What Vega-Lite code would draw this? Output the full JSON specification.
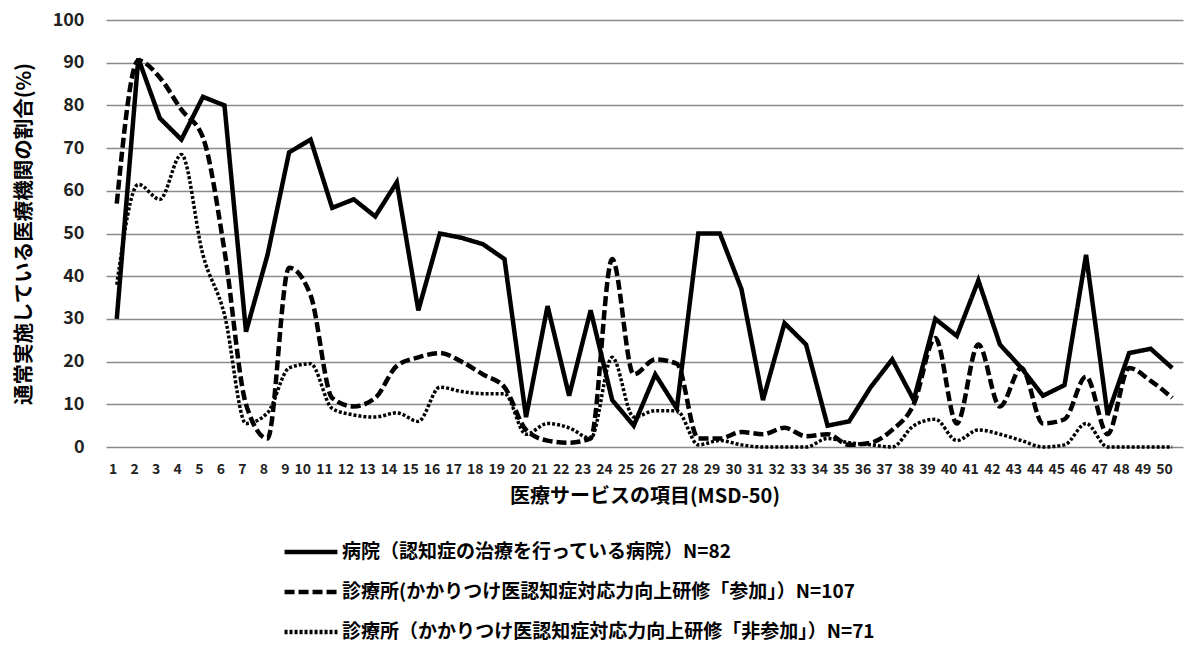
{
  "$schema": "https://vega.github.io/schema/vega-lite/v6.json",
  "autosize": {"type": "none"},
  "padding": {"left": 106, "top": 20, "right": 4, "bottom": 198},
  "width": 1077,
  "height": 427,
  "background": "white",
  "config": {
    "font": "Noto Sans CJK JP",
    "view": {"stroke": null}
  },
  "datasets": {
    "s": [
      {"item": 1, "value": 30}, {"item": 2, "value": 91}, {"item": 3, "value": 77}, {"item": 4, "value": 72}, {"item": 5, "value": 82},
      {"item": 6, "value": 80}, {"item": 7, "value": 27}, {"item": 8, "value": 45}, {"item": 9, "value": 69}, {"item": 10, "value": 72},
      {"item": 11, "value": 56}, {"item": 12, "value": 58}, {"item": 13, "value": 54}, {"item": 14, "value": 62}, {"item": 15, "value": 32},
      {"item": 16, "value": 50}, {"item": 17, "value": 49}, {"item": 18, "value": 47.5}, {"item": 19, "value": 44}, {"item": 20, "value": 7},
      {"item": 21, "value": 33}, {"item": 22, "value": 12}, {"item": 23, "value": 32}, {"item": 24, "value": 11}, {"item": 25, "value": 5},
      {"item": 26, "value": 17}, {"item": 27, "value": 9}, {"item": 28, "value": 50}, {"item": 29, "value": 50}, {"item": 30, "value": 37},
      {"item": 31, "value": 11}, {"item": 32, "value": 29}, {"item": 33, "value": 24}, {"item": 34, "value": 5}, {"item": 35, "value": 6},
      {"item": 36, "value": 14}, {"item": 37, "value": 20.5}, {"item": 38, "value": 11}, {"item": 39, "value": 30}, {"item": 40, "value": 26},
      {"item": 41, "value": 39}, {"item": 42, "value": 24}, {"item": 43, "value": 18.5}, {"item": 44, "value": 12}, {"item": 45, "value": 14.5},
      {"item": 46, "value": 45}, {"item": 47, "value": 7.5}, {"item": 48, "value": 22}, {"item": 49, "value": 23}, {"item": 50, "value": 18.5}
    ],
    "d": [
      {"item": 1, "value": 57}, {"item": 2, "value": 90.5}, {"item": 3, "value": 86.5}, {"item": 4, "value": 79}, {"item": 5, "value": 72.5},
      {"item": 6, "value": 46}, {"item": 7, "value": 10}, {"item": 8, "value": 2}, {"item": 9, "value": 42}, {"item": 10, "value": 35.5},
      {"item": 11, "value": 11.5}, {"item": 12, "value": 9.5}, {"item": 13, "value": 11.5}, {"item": 14, "value": 19}, {"item": 15, "value": 21},
      {"item": 16, "value": 22}, {"item": 17, "value": 20}, {"item": 18, "value": 17}, {"item": 19, "value": 14}, {"item": 20, "value": 4},
      {"item": 21, "value": 1.5}, {"item": 22, "value": 1}, {"item": 23, "value": 2}, {"item": 24, "value": 44}, {"item": 25, "value": 17},
      {"item": 26, "value": 20.5}, {"item": 27, "value": 19.5}, {"item": 28, "value": 2}, {"item": 29, "value": 2}, {"item": 30, "value": 3.5},
      {"item": 31, "value": 3}, {"item": 32, "value": 4.5}, {"item": 33, "value": 2.5}, {"item": 34, "value": 3}, {"item": 35, "value": 0.5},
      {"item": 36, "value": 1}, {"item": 37, "value": 4}, {"item": 38, "value": 10}, {"item": 39, "value": 25.5}, {"item": 40, "value": 5.5},
      {"item": 41, "value": 24}, {"item": 42, "value": 9.5}, {"item": 43, "value": 18.5}, {"item": 44, "value": 5.5}, {"item": 45, "value": 6.5},
      {"item": 46, "value": 16.5}, {"item": 47, "value": 3}, {"item": 48, "value": 18.5}, {"item": 49, "value": 15.5}, {"item": 50, "value": 11.5}
    ],
    "t": [
      {"item": 1, "value": 38}, {"item": 2, "value": 61.5}, {"item": 3, "value": 58}, {"item": 4, "value": 68.5}, {"item": 5, "value": 45},
      {"item": 6, "value": 31}, {"item": 7, "value": 5.5}, {"item": 8, "value": 8}, {"item": 9, "value": 18.5}, {"item": 10, "value": 19.5},
      {"item": 11, "value": 9}, {"item": 12, "value": 7.5}, {"item": 13, "value": 7}, {"item": 14, "value": 8}, {"item": 15, "value": 6},
      {"item": 16, "value": 14}, {"item": 17, "value": 13}, {"item": 18, "value": 12.5}, {"item": 19, "value": 12.5}, {"item": 20, "value": 3},
      {"item": 21, "value": 5.5}, {"item": 22, "value": 4.5}, {"item": 23, "value": 2}, {"item": 24, "value": 21}, {"item": 25, "value": 7},
      {"item": 26, "value": 8.5}, {"item": 27, "value": 8.5}, {"item": 28, "value": 0.5}, {"item": 29, "value": 1.5}, {"item": 30, "value": 0.5},
      {"item": 31, "value": 0}, {"item": 32, "value": 0}, {"item": 33, "value": 0}, {"item": 34, "value": 2}, {"item": 35, "value": 1},
      {"item": 36, "value": 0.5}, {"item": 37, "value": 0}, {"item": 38, "value": 5}, {"item": 39, "value": 6.5}, {"item": 40, "value": 1.5},
      {"item": 41, "value": 4}, {"item": 42, "value": 3}, {"item": 43, "value": 1.5}, {"item": 44, "value": 0}, {"item": 45, "value": 0.5},
      {"item": 46, "value": 5.5}, {"item": 47, "value": 0}, {"item": 48, "value": 0}, {"item": 49, "value": 0}, {"item": 50, "value": 0}
    ]
  },
  "layer": [
    {
      "data": {"name": "s"},
      "transform": [{"calculate": "'病院（認知症の治療を行っている病院）N=82'", "as": "series"}],
      "mark": {"type": "line", "color": "black", "strokeWidth": 4.5, "interpolate": "linear"},
      "encoding": {
        "x": {"field": "item", "type": "ordinal"},
        "y": {"field": "value", "type": "quantitative"},
        "strokeDash": {"field": "series", "type": "nominal"}
      }
    },
    {
      "data": {"name": "d"},
      "transform": [{"calculate": "'診療所(かかりつけ医認知症対応力向上研修「参加」）N=107'", "as": "series"}],
      "mark": {"type": "line", "color": "black", "strokeWidth": 4.5, "interpolate": "monotone"},
      "encoding": {
        "x": {"field": "item", "type": "ordinal"},
        "y": {"field": "value", "type": "quantitative"},
        "strokeDash": {"field": "series", "type": "nominal"}
      }
    },
    {
      "data": {"name": "t"},
      "transform": [{"calculate": "'診療所（かかりつけ医認知症対応力向上研修「非参加」）N=71'", "as": "series"}],
      "mark": {"type": "line", "color": "black", "strokeWidth": 3.5, "interpolate": "monotone"},
      "encoding": {
        "x": {
          "field": "item", "type": "ordinal",
          "scale": {"type": "point", "padding": 0.5},
          "axis": {
            "title": "医療サービスの項目(MSD-50)", "labelAngle": 0, "labelFontSize": 14, "labelFontWeight": "bold",
            "labelColor": "#222", "labelOverlap": false, "labelPadding": 22, "ticks": false, "domain": false,
            "grid": false, "titleFontSize": 20, "titleFontWeight": "bold", "titleColor": "black", "titlePadding": 10
          }
        },
        "y": {
          "field": "value", "type": "quantitative",
          "scale": {"domain": [0, 100], "nice": false},
          "axis": {
            "title": "通常実施している医療機関の割合(%)", "values": [0, 10, 20, 30, 40, 50, 60, 70, 80, 90, 100],
            "labelFontSize": 18, "labelFontWeight": "bold", "labelColor": "#222", "labelPadding": 22,
            "ticks": false, "domain": false, "grid": true, "gridColor": "#8a8a8a", "gridWidth": 1.5,
            "titleFontSize": 20.5, "titleFontWeight": "bold", "titleColor": "black", "titlePadding": 18
          }
        },
        "strokeDash": {
          "field": "series", "type": "nominal",
          "scale": {
            "domain": ["病院（認知症の治療を行っている病院）N=82", "診療所(かかりつけ医認知症対応力向上研修「参加」）N=107", "診療所（かかりつけ医認知症対応力向上研修「非参加」）N=71"],
            "range": [[1, 0], [10, 4], [3, 2]]
          },
          "legend": {
            "title": null, "orient": "none", "legendX": 176, "legendY": 503, "direction": "vertical",
            "symbolType": "stroke", "symbolSize": 2800, "symbolStrokeWidth": 4.5, "symbolStrokeColor": "black",
            "labelFontSize": 19, "labelFontWeight": "bold", "labelColor": "black", "labelOffset": 2, "rowPadding": 1, "labelLimit": 900
          }
        }
      }
    }
  ]
}
